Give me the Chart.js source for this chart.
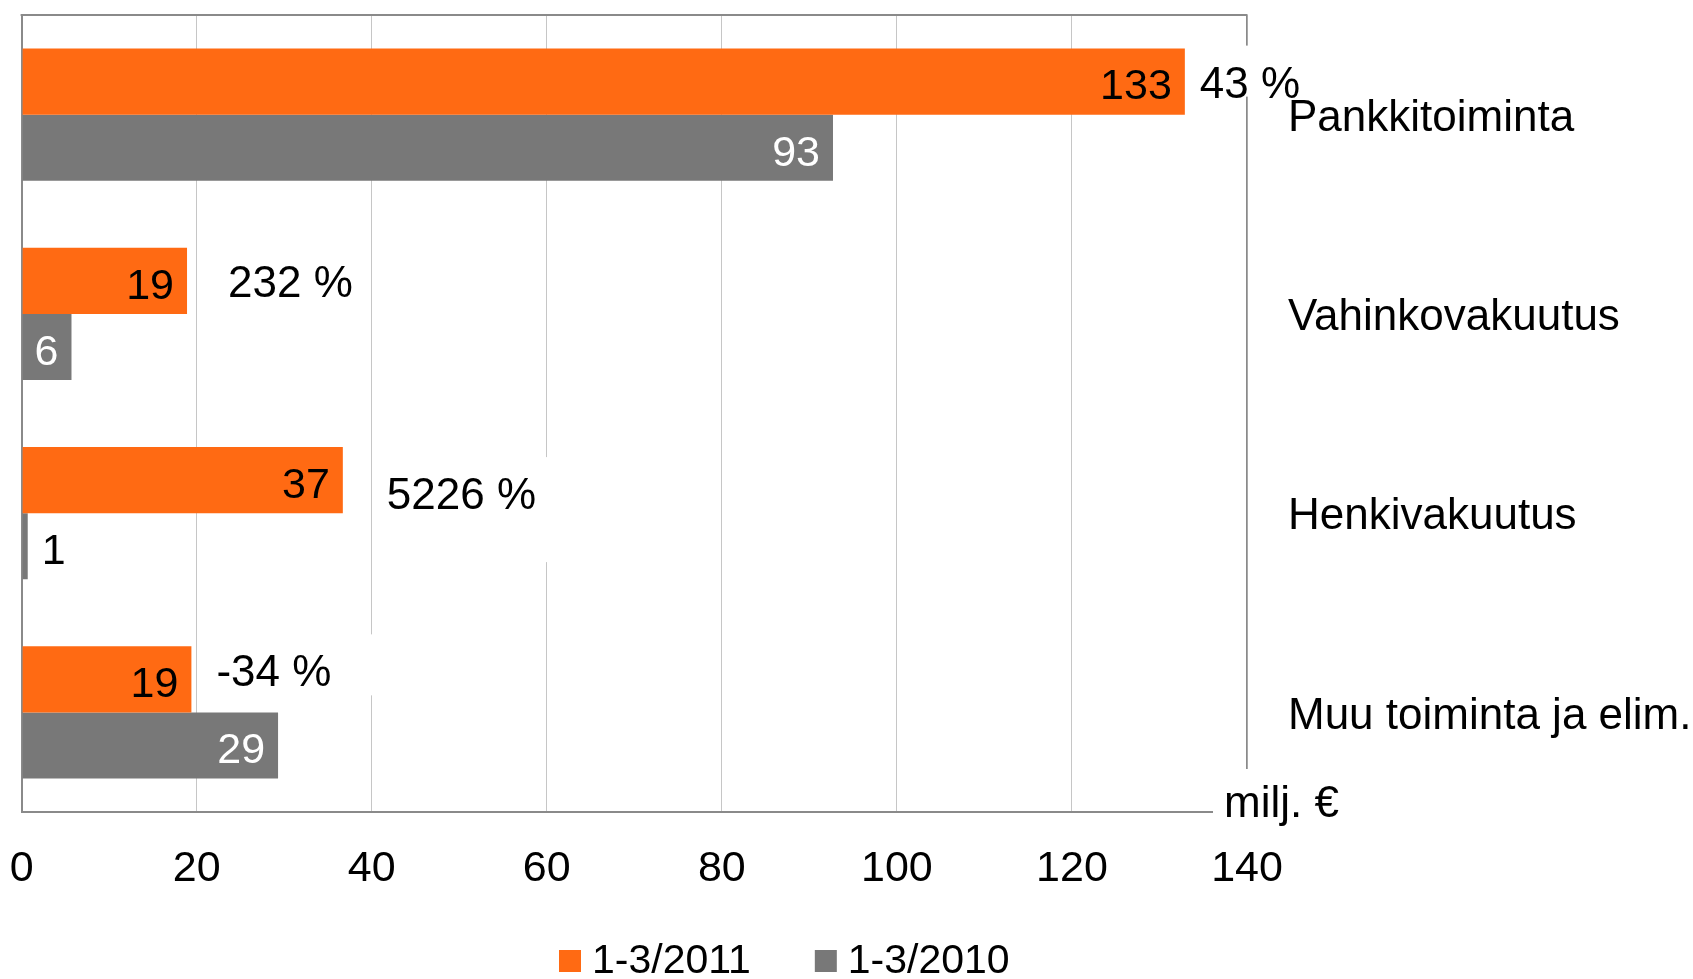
<!DOCTYPE html>
<html><head><meta charset="utf-8">
<script src="https://cdn.jsdelivr.net/npm/chart.js@4.4.1/dist/chart.umd.min.js"></script>
<style>html,body{margin:0;padding:0;background:#fff;}canvas{display:block}</style>
</head><body>
<canvas id="c" width="1693" height="979"></canvas>
<script>
const categories = ['Pankkitoiminta', 'Vahinkovakuutus', 'Henkivakuutus', 'Muu toiminta ja elim.'];
const seriesNames = ['1-3/2011', '1-3/2010'];
const values2011 = [132.9, 18.9, 36.7, 19.4];
const values2010 = [92.7, 5.7, 0.7, 29.3];
const changeLabels = ['43 %', '232 %', '5226 %', '-34 %'];
const xTicks = [0, 20, 40, 60, 80, 100, 120, 140];
const unitLabel = 'milj. €';

const FONT = '"Liberation Sans", Arial, sans-serif';
const ORANGE = '#ff6a13';
const GREY = '#787878';

const topBorder = {
  id: 'topBorder',
  beforeDatasetsDraw(chart) {
    const {ctx, chartArea: a} = chart;
    ctx.save();
    ctx.strokeStyle = '#8a8a8a'; ctx.lineWidth = 2;
    ctx.beginPath(); ctx.moveTo(a.left - 1, a.top); ctx.lineTo(a.right, a.top); ctx.stroke();
    ctx.restore();
  }
};

const changeAnnotations = {
  id: 'changeAnnotations',
  afterDatasetsDraw(chart, args, opts) {
    const ctx = chart.ctx;
    const meta = chart.getDatasetMeta(0);
    ctx.save();
    ctx.font = '44px ' + FONT;
    ctx.textBaseline = 'middle';
    ctx.textAlign = 'left';
    changeLabels.forEach((txt, i) => {
      const bar = meta.data[i];
      const x = bar.x + opts.dx[i];
      const y = bar.y + opts.dy[i];
      const w = ctx.measureText(txt).width;
      ctx.fillStyle = '#fff';
      ctx.fillRect(x - 8, y - 36, w + 8 + opts.padR[i], 36 + opts.padB[i]);
      ctx.fillStyle = '#000';
      ctx.fillText(txt, x, y + 4);
    });
    const a = chart.chartArea;
    ctx.fillStyle = '#fff';
    ctx.fillRect(a.right - 34, a.bottom - 43, 150, 75);
    ctx.fillStyle = '#000';
    ctx.fillText(unitLabel, a.right - 23, a.bottom - 7);
    ctx.restore();
  }
};

const valueLabels = {
  id: 'valueLabels',
  afterDatasetsDraw(chart) {
    const ctx = chart.ctx;
    ctx.save();
    ctx.font = '43px ' + FONT;
    ctx.textBaseline = 'middle';
    chart.data.datasets.forEach((ds, di) => {
      const meta = chart.getDatasetMeta(di);
      meta.data.forEach((bar, i) => {
        const txt = String(Math.round(ds.data[i]));
        const w = ctx.measureText(txt).width;
        const barW = bar.x - bar.base;
        if (w + 24 <= barW) {
          ctx.textAlign = 'right';
          ctx.fillStyle = di === 0 ? '#000' : '#fff';
          ctx.fillText(txt, bar.x - 13, bar.y + 6);
        } else {
          ctx.textAlign = 'left';
          ctx.fillStyle = '#000';
          ctx.fillText(txt, bar.x + 14, bar.y + 6);
        }
      });
    });
    ctx.restore();
  }
};

const customLegend = {
  id: 'customLegend',
  afterDraw(chart) {
    const ctx = chart.ctx;
    ctx.save();
    ctx.font = '41px ' + FONT;
    ctx.textBaseline = 'middle';
    ctx.textAlign = 'left';
    const y = 961;
    let x = 559;
    chart.data.datasets.forEach(ds => {
      ctx.fillStyle = ds.backgroundColor;
      ctx.fillRect(x, y - 11, 22, 22);
      x += 33;
      ctx.fillStyle = '#000';
      ctx.fillText(ds.label, x, y + 1);
      x += ctx.measureText(ds.label).width + 64;
    });
    ctx.restore();
  }
};

const zeroPad = s => { s.paddingLeft = 0; s.paddingRight = 0; s.paddingTop = 0; s.paddingBottom = 0; };

new Chart(document.getElementById('c'), {
  type: 'bar',
  data: {
    labels: categories,
    datasets: [
      {label: seriesNames[0], data: values2011, backgroundColor: ORANGE, borderWidth: 0,
       categoryPercentage: 0.663, barPercentage: 1.0},
      {label: seriesNames[1], data: values2010, backgroundColor: GREY, borderWidth: 0,
       categoryPercentage: 0.663, barPercentage: 1.0}
    ]
  },
  options: {
    indexAxis: 'y',
    responsive: false,
    animation: false,
    devicePixelRatio: 1,
    layout: {padding: {left: 21.6, top: 15, right: 0, bottom: 0}},
    plugins: {
      legend: {display: false},
      tooltip: {enabled: false},
      changeAnnotations: {
        dx: [15, 41, 44, 25],
        dy: [0, 0, 13, -9],
        padR: [20, 14, 20, 60],
        padB: [15, 25, 69, 25]
      }
    },
    scales: {
      x: {
        position: 'bottom',
        min: xTicks[0],
        max: xTicks[xTicks.length - 1],
        ticks: {stepSize: xTicks[1] - xTicks[0], color: '#000', font: {family: FONT, size: 43}, padding: 31, maxRotation: 0},
        grid: {
          drawTicks: false,
          color: c => (c.tick && c.tick.value === 0) ? '#8a8a8a' : '#c6c6c6',
          lineWidth: c => (c.tick && c.tick.value === 0) ? 2 : 1
        },
        border: {display: true, color: '#8a8a8a', width: 2},
        afterFit: s => { s.height = 167; zeroPad(s); }
      },
      y: {
        position: 'right',
        ticks: {color: '#000', font: {family: FONT, size: 44}, padding: 41, labelOffset: 4},
        grid: {display: false, drawTicks: false},
        border: {display: true, color: '#8a8a8a', width: 1.5},
        afterFit: s => { s.width = 446; zeroPad(s); }
      }
    }
  },
  plugins: [topBorder, changeAnnotations, valueLabels, customLegend]
});
</script>
</body></html>
